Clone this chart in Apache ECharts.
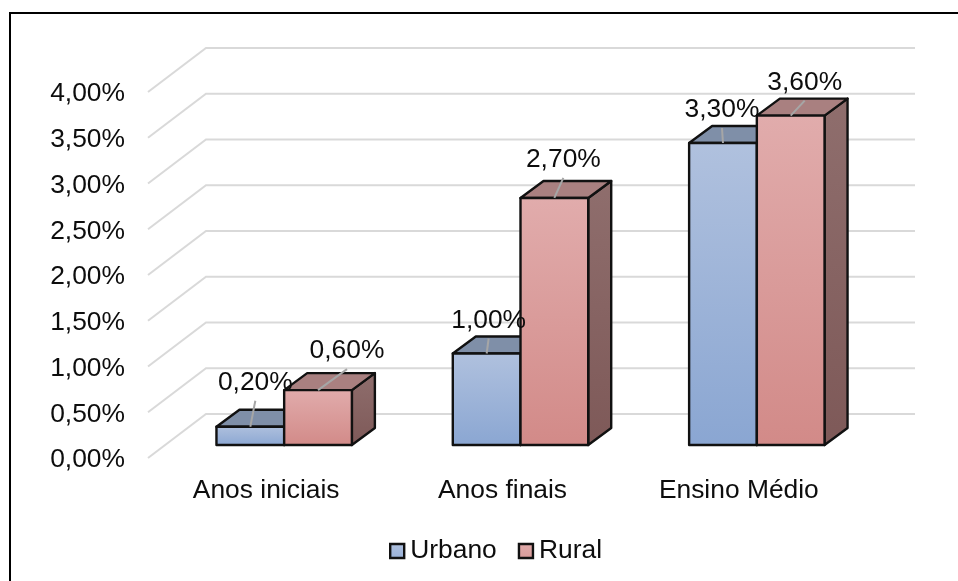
<!DOCTYPE html>
<html>
<head>
<meta charset="utf-8">
<title>Urbano x Rural</title>
<script src="https://cdn.jsdelivr.net/npm/echarts@6/dist/echarts.min.js"></script>
<style>
html, body { margin: 0; padding: 0; background: #fff; overflow: hidden; }
#main { width: 958px; height: 581px; }
#frame { position: absolute; left: 9px; top: 12px; right: 0; bottom: 0; border-left: 2px solid #000; border-top: 2px solid #000; pointer-events: none; }
</style>
</head>
<body>
<div id="main"></div>
<div id="frame"></div>
<script>
var categories = ['Anos iniciais', 'Anos finais', 'Ensino Médio'];
var urbano = [0.2, 1.0, 3.3];
var rural = [0.6, 2.7, 3.6];
var ticks = [0, 0.5, 1, 1.5, 2, 2.5, 3, 3.5, 4];

// onde cada rotulo fica em relacao ao topo da barra
var urbanoLabelShift = [[5, -44], [2, -33], [-1, -33]];
var ruralLabelShift = [[29, -39], [9, -38], [14, -33]];

var FONT = '"Liberation Sans", Arial, sans-serif';
var FONT_SIZE = 26.4;
var TEXT_COLOR = '#0d0d0d';
var WALL_DX = 58, WALL_DY = -44;   // profundidade da parede do fundo
var FLOOR_DX = 18, FLOOR_DY = -13; // recuo da barra em relacao ao plano da frente
var BAR_DX = 23, BAR_DY = -17;     // profundidade da barra
var BAR_RATIO = 0.2865;
var EDGE = '#111';

function fmt(v) {
	return v.toFixed(2).replace('.', ',') + '%';
}

function vGrad(top, bottom) {
	return new echarts.graphic.LinearGradient(0, 0, 0, 1, [
		{ offset: 0, color: top },
		{ offset: 1, color: bottom }
	]);
}

function renderWall(params, api) {
	var rect = params.coordSys;
	var y = api.coord([0, api.value(0)])[1];
	return {
		type: 'polyline',
		shape: {
			points: [
				[rect.x, y],
				[rect.x + WALL_DX, y + WALL_DY],
				[rect.x + rect.width + WALL_DX, y + WALL_DY]
			]
		},
		style: { fill: null, stroke: '#d9d9d9', lineWidth: 2 }
	};
}

function makeBar(side, colors) {
	return function (params, api) {
		var top = api.coord([api.value(0), api.value(1)]);
		var base = api.coord([api.value(0), 0]);
		var w = api.size([1, 0])[0] * BAR_RATIO;
		var x0 = top[0] + FLOOR_DX + (side < 0 ? -w : 0);
		var x1 = x0 + w;
		var y0 = top[1] + FLOOR_DY;
		var y1 = base[1] + FLOOR_DY;
		var edge = { stroke: EDGE, lineWidth: 2.4, lineJoin: 'round' };
		return {
			type: 'group',
			children: [
				{
					type: 'polygon',
					shape: { points: [[x1, y0], [x1 + BAR_DX, y0 + BAR_DY], [x1 + BAR_DX, y1 + BAR_DY], [x1, y1]] },
					style: Object.assign({ fill: vGrad(colors.side[0], colors.side[1]) }, edge)
				},
				{
					type: 'polygon',
					shape: { points: [[x0, y0], [x0 + BAR_DX, y0 + BAR_DY], [x1 + BAR_DX, y0 + BAR_DY], [x1, y0]] },
					style: Object.assign({ fill: colors.top }, edge)
				},
				{
					type: 'rect',
					shape: { x: x0, y: y0, width: w, height: y1 - y0 },
					style: Object.assign({ fill: vGrad(colors.front[0], colors.front[1]) }, edge)
				}
			]
		};
	};
}

function makeLabel(side, shifts) {
	return function (params, api) {
		var i = api.value(0);
		var top = api.coord([i, api.value(1)]);
		var w = api.size([1, 0])[0] * BAR_RATIO;
		var cx = top[0] + FLOOR_DX + side * w / 2;
		var cy = top[1] + FLOOR_DY;
		var lx = cx + shifts[i][0];
		var ly = cy + shifts[i][1];
		return {
			type: 'group',
			children: [
				{
					type: 'line',
					shape: { x1: cx, y1: cy, x2: lx, y2: ly + 18 },
					style: { stroke: '#a6a6a6', lineWidth: 2 }
				},
				{
					type: 'text',
					style: {
						x: lx, y: ly, text: fmt(api.value(1)),
						fill: TEXT_COLOR, font: FONT_SIZE + 'px ' + FONT,
						textAlign: 'center', textVerticalAlign: 'middle'
					}
				}
			]
		};
	};
}

var urbanoColors = { front: ['#b0c1de', '#8aa6d2'], top: '#7f8fa8', side: ['#7f8fa8', '#5f7090'] };
var ruralColors = { front: ['#e1acac', '#d28a88'], top: '#a98080', side: ['#8f6e6d', '#7e5958'] };

var chart = echarts.init(document.getElementById('main'));
chart.setOption({
	animation: false,
	backgroundColor: '#fff',
	textStyle: { fontFamily: FONT },
	grid: { left: 148, right: 101, top: 92, bottom: 123 },
	legend: {
		bottom: 12,
		left: 384,
		icon: 'rect',
		itemWidth: 14,
		itemHeight: 14,
		itemGap: 21,
		textStyle: { color: TEXT_COLOR, fontSize: FONT_SIZE, fontFamily: FONT, padding: [0, 0, 0, 1] },
		data: [
			{ name: 'Urbano', itemStyle: { color: vGrad('#b0c1de', '#98b0d8'), borderColor: EDGE, borderWidth: 2.4 } },
			{ name: 'Rural', itemStyle: { color: vGrad('#e1acac', '#d89a98'), borderColor: EDGE, borderWidth: 2.4 } }
		]
	},
	xAxis: {
		type: 'category',
		data: categories,
		axisLine: { show: false },
		axisTick: { show: false },
		axisLabel: { color: TEXT_COLOR, fontSize: FONT_SIZE, fontFamily: FONT, margin: 20 }
	},
	yAxis: {
		type: 'value',
		min: 0,
		max: 4,
		interval: 0.5,
		axisLine: { show: false },
		axisTick: { show: false },
		splitLine: { show: false },
		axisLabel: { color: TEXT_COLOR, fontSize: FONT_SIZE, fontFamily: FONT, margin: 23, verticalAlign: 'top', lineHeight: 4, formatter: fmt }
	},
	series: [
		{
			name: 'wall',
			type: 'custom',
			clip: false,
			z: 1,
			silent: true,
			encode: { y: 0 },
			data: ticks.map(function (t) { return [t]; }),
			renderItem: renderWall
		},
		{
			name: 'Urbano',
			type: 'custom',
			clip: false,
			z: 2,
			encode: { x: 0, y: 1 },
			data: urbano.map(function (v, i) { return [i, v]; }),
			renderItem: makeBar(-1, urbanoColors)
		},
		{
			name: 'Rural',
			type: 'custom',
			clip: false,
			z: 3,
			encode: { x: 0, y: 1 },
			data: rural.map(function (v, i) { return [i, v]; }),
			renderItem: makeBar(1, ruralColors)
		},
		{
			name: 'urbanoLabels',
			type: 'custom',
			clip: false,
			z: 4,
			encode: { x: 0, y: 1 },
			data: urbano.map(function (v, i) { return [i, v]; }),
			renderItem: makeLabel(-1, urbanoLabelShift)
		},
		{
			name: 'ruralLabels',
			type: 'custom',
			clip: false,
			z: 4,
			encode: { x: 0, y: 1 },
			data: rural.map(function (v, i) { return [i, v]; }),
			renderItem: makeLabel(1, ruralLabelShift)
		}
	]
});

window.onresize = function () {
	chart.resize();
};
</script>
</body>
</html>
